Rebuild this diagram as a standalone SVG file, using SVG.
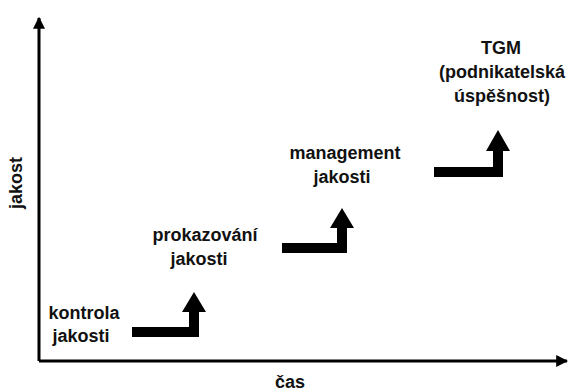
<svg xmlns="http://www.w3.org/2000/svg" width="571" height="392" viewBox="0 0 571 392">
  <style>
    .lbl { font-family: "Liberation Sans", Arial, sans-serif; font-weight: bold; font-size: 18px; fill: #111; text-anchor: middle; }
    .axis { stroke: #000; stroke-width: 3; fill: none; }
    .step { fill: #000; }
  </style>
  <defs>
    <marker id="axisHead" viewBox="0 0 10 10" refX="9" refY="5" markerWidth="4" markerHeight="4" markerUnits="strokeWidth" orient="auto">
      <path d="M0,0 L10,5 L0,10 z" fill="#000"/>
    </marker>
  </defs>

  <!-- axes -->
  <g id="axes">
    <path class="axis" d="M39,361 L39,18" marker-end="url(#axisHead)"/>
    <path class="axis" d="M39,361 L567,361" marker-end="url(#axisHead)"/>
    <text class="lbl" transform="translate(22,183) rotate(-90)">jakost</text>
    <text class="lbl" x="290" y="388">čas</text>
  </g>

  <!-- step arrows between stages -->
  <g id="connectors">
    <polygon class="step" points="132,327 189,327 189,312 182,312 194,292 206,312 199,312 199,337 132,337"/>
    <polygon class="step" points="282,243 337,243 337,228 330,228 342,208 354,228 347,228 347,253 282,253"/>
    <polygon class="step" points="434,167 493,167 493,151 486,151 498,130 510,151 503,151 503,177 434,177"/>
  </g>

  <g id="kontrola">
    <text class="lbl" x="84" y="319">kontrola</text>
    <text class="lbl" x="81" y="342">jakosti</text>
  </g>

  <g id="prokazovani">
    <text class="lbl" x="205" y="241">prokazování</text>
    <text class="lbl" x="199" y="265">jakosti</text>
  </g>

  <g id="management">
    <text class="lbl" x="345" y="159">management</text>
    <text class="lbl" x="342" y="183">jakosti</text>
  </g>

  <g id="tgm">
    <text class="lbl" x="501" y="54">TGM</text>
    <text class="lbl" x="502" y="78">(podnikatelská</text>
    <text class="lbl" x="502" y="102">úspěšnost)</text>
  </g>
</svg>
